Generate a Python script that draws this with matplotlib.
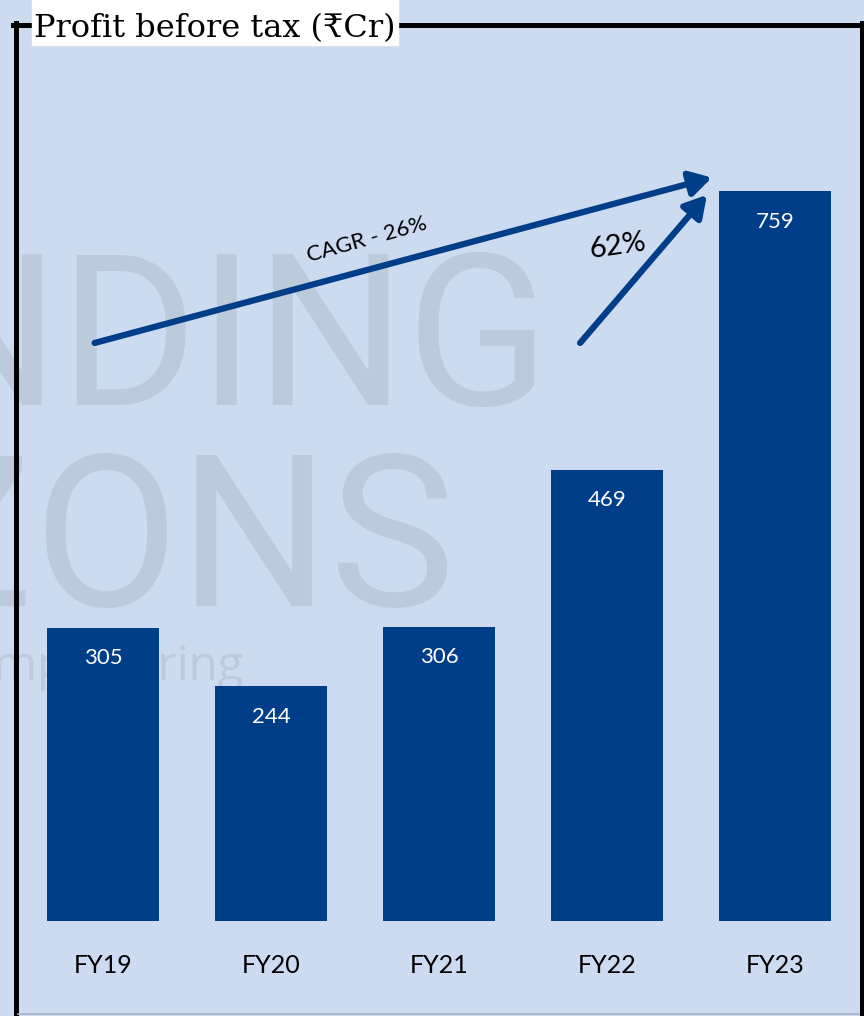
import matplotlib
matplotlib.use("Agg")
import matplotlib.pyplot as plt
from matplotlib.lines import Line2D
from matplotlib.patches import Rectangle

# data
years = ["FY19", "FY20", "FY21", "FY22", "FY23"]
pbt = [305, 244, 306, 469, 759]
cagr_label = "CAGR - 26%"
yoy_label = "62%"

bg = "#CCDBF0"
navy = "#003E89"
W, H = 864, 1016

fig = plt.figure(figsize=(W / 100, H / 100), dpi=100, facecolor=bg)

def fx(px):
    return px / W

def fy(py):
    return 1 - py / H

# watermark (behind everything)
wm = "#BCCADC"
fig.text(fx(551), fy(405), "TRENDING", fontsize=152, family="Roboto",
         color=wm, ha="right", va="baseline", zorder=-5)
fig.text(fx(456), fy(606), "HORIZONS", fontsize=152, family="Roboto",
         color=wm, ha="right", va="baseline", zorder=-5)
fig.text(fx(244), fy(680), "Empowering", fontsize=34, family="Open Sans",
         color=wm, ha="right", va="baseline", zorder=-5)

# axes: bar baseline at y=921px, 0.9618 px per unit
ax = fig.add_axes([0, fy(921), 1, (921 - 30) / H])
ax.set_zorder(1)
ax.patch.set_alpha(0)
px_per_unit = 730 / 759
ax.set_ylim(0, 891 / px_per_unit)
ax.set_xlim(-103 / 168, (W - 103) / 168)

xs = list(range(len(years)))
bars = ax.bar(xs, pbt, width=112 / 168, color=navy, zorder=3)
for x, v in zip(xs, pbt):
    ax.annotate(str(v), (x, v), xytext=(0, -22), textcoords="offset points",
                ha="center", va="center", color="white", fontsize=16,
                family="Lato", zorder=4)

ax.set_xticks(xs)
ax.set_xticklabels(years, fontsize=18, family="Lato", color="black")
ax.tick_params(axis="x", length=0, pad=24)
ax.set_yticks([])
for s in ax.spines.values():
    s.set_visible(False)

# growth arrows
arrow_kw = dict(arrowstyle="-|>,head_length=1.3,head_width=0.75",
                color=navy, lw=4.5, shrinkA=0, shrinkB=0)
ax.annotate("", xy=(3.625, 773), xytext=(-0.05, 601), arrowprops=arrow_kw, zorder=5)
ax.annotate("", xy=(3.595, 755), xytext=(2.84, 601), arrowprops=arrow_kw, zorder=5)
ax.text(1.57, 708, cagr_label, rotation=15.5, ha="center", va="center",
        fontsize=16, family="Lato", color="black", zorder=5)
ax.text(3.06, 702, yoy_label, rotation=8, ha="center", va="center",
        fontsize=21, family="Lato", color="black", zorder=5)

# frame
lw = 5 * 72 / 100
fig.add_artist(Line2D([fx(13), fx(864)], [fy(25), fy(25)], color="black", lw=lw, zorder=8))
fig.add_artist(Line2D([fx(15.5), fx(15.5)], [fy(23), fy(1016)], color="black", lw=lw, zorder=8))
fig.add_artist(Line2D([fx(861.5), fx(861.5)], [fy(23), fy(1016)], color="black", lw=lw, zorder=8))
fig.add_artist(Line2D([fx(18), fx(859)], [fy(1014), fy(1014)], color="#A9B4C4", lw=1.2, zorder=8))

# title with white box
fig.add_artist(Rectangle((fx(32), fy(45)), fx(366), 45 / H, color="white", zorder=9))
fig.text(fx(34), fy(37), "Profit before tax (₹Cr)", fontsize=23,
         family=["DejaVu Serif", "DejaVu Sans"], color="black",
         ha="left", va="baseline", zorder=10)

fig.savefig("out.png", dpi=100, facecolor=bg)
